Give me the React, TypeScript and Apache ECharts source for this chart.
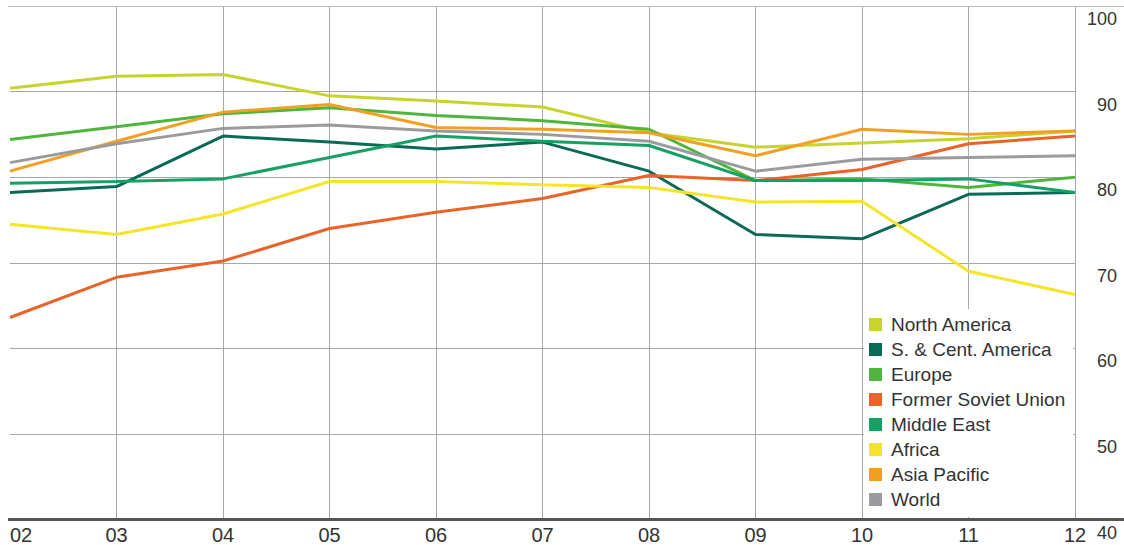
import React, { useEffect, useRef } from "react";
import * as echarts from "echarts";

// Refinery utilisation by region, per cent
const years = ["02", "03", "04", "05", "06", "07", "08", "09", "10", "11", "12"];

const northAmerica = [90.4, 91.8, 92.0, 89.5, 88.9, 88.2, 85.2, 83.5, 84.0, 84.5, 85.4];
const southCentAmerica = [78.2, 78.9, 84.8, 84.1, 83.3, 84.1, 80.7, 73.3, 72.8, 78.0, 78.2];
const europe = [84.4, 85.9, 87.4, 88.1, 87.2, 86.6, 85.6, 79.6, 79.8, 78.8, 80.0];
const formerSovietUnion = [63.6, 68.3, 70.2, 74.0, 75.9, 77.5, 80.2, 79.6, 80.9, 83.9, 84.8];
const middleEast = [79.3, 79.5, 79.8, 82.3, 84.8, 84.2, 83.7, 79.6, 79.6, 79.8, 78.2];
const africa = [74.5, 73.3, 75.7, 79.5, 79.5, 79.1, 78.8, 77.1, 77.2, 69.0, 66.3];
const asiaPacific = [80.7, 84.2, 87.6, 88.5, 85.8, 85.6, 85.2, 82.5, 85.6, 85.0, 85.4];
const world = [81.7, 83.9, 85.7, 86.1, 85.4, 85.0, 84.2, 80.7, 82.1, 82.3, 82.5];

const yTicks = [40, 50, 60, 70, 80, 90, 100];

const seriesDefs = [
  { name: "North America", data: northAmerica, color: "#c6d42c" },
  { name: "S. & Cent. America", data: southCentAmerica, color: "#0b6a55" },
  { name: "Europe", data: europe, color: "#4fb53c" },
  { name: "Former Soviet Union", data: formerSovietUnion, color: "#e8642a" },
  { name: "Middle East", data: middleEast, color: "#17a064" },
  { name: "Africa", data: africa, color: "#f5e52a" },
  { name: "Asia Pacific", data: asiaPacific, color: "#f0a023" },
  { name: "World", data: world, color: "#9b9b9f" },
];

const FONT = "'Liberation Sans', Arial, sans-serif";

export default function App() {
  const ref = useRef<HTMLDivElement>(null);

  useEffect(() => {
    if (!ref.current) return;
    const chart = echarts.init(ref.current, null, { renderer: "svg" });
    chart.setOption({
      animation: false,
      backgroundColor: "#ffffff",
      grid: { left: 10, right: 49, top: 6, bottom: 25.5 },
      xAxis: {
        type: "category",
        data: years,
        boundaryGap: false,
        axisLine: { show: false },
        axisTick: { show: false },
        axisLabel: {
          color: "#333",
          fontFamily: FONT,
          fontSize: 20,
          margin: 5,
          alignMinLabel: "left",
        },
        splitLine: {
          show: true,
          showMinLine: false,
          lineStyle: { color: "#a8a8a8", width: 1 },
        },
      },
      yAxis: {
        type: "value",
        position: "right",
        min: yTicks[0],
        max: yTicks[yTicks.length - 1],
        interval: 10,
        axisLine: { show: false },
        axisTick: { show: false },
        axisLabel: {
          color: "#333",
          fontFamily: FONT,
          fontSize: 18,
          margin: 42,
          align: "right",
          verticalAlign: "top",
          padding: [4, 0, 0, 0],
        },
        splitLine: { show: true, lineStyle: { color: "#a8a8a8", width: 1 } },
      },
      legend: {
        orient: "vertical",
        left: 864,
        top: 309,
        padding: [6, 8, 8, 5],
        itemGap: 6,
        itemWidth: 13,
        itemHeight: 13,
        icon: "rect",
        backgroundColor: "#ffffff",
        textStyle: {
          color: "#333",
          fontFamily: FONT,
          fontSize: 19,
          padding: [0, 0, 0, 4],
        },
        data: seriesDefs.map((s) => s.name),
      },
      graphic: [
        {
          type: "line",
          z: 100,
          shape: { x1: 8, y1: 519.5, x2: 1124, y2: 519.5 },
          style: { stroke: "#555555", lineWidth: 3 },
        },
        {
          type: "line",
          z: 100,
          shape: { x1: 8, y1: 6.5, x2: 1124, y2: 6.5 },
          style: { stroke: "#bdbdbd", lineWidth: 1 },
        },
      ],
      series: seriesDefs.map((s) => ({
        name: s.name,
        type: "line",
        data: s.data,
        color: s.color,
        symbol: "none",
        lineStyle: { width: 3, color: s.color },
      })),
    });
    return () => chart.dispose();
  }, []);

  return (
    <div
      ref={ref}
      style={{ position: "absolute", left: 0, top: 0, width: 1124, height: 545 }}
    />
  );
}
